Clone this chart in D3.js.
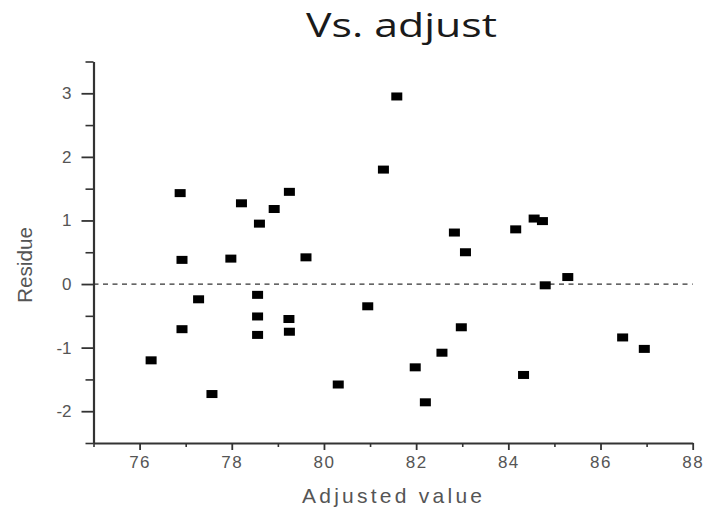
<!DOCTYPE html>
<html>
<head>
<meta charset="utf-8">
<script src="https://cdn.jsdelivr.net/npm/d3@7"></script>
<style>
  html, body { margin: 0; padding: 0; background: #fff; }
  svg { display: block; }
</style>
</head>
<body>
<svg id="chart" width="707" height="512"></svg>
<script>
// ---- data ----
const adjustedValue = [76.25, 76.88, 76.92, 76.92, 77.28, 77.57, 77.98, 78.21, 78.60, 78.56,
  78.56, 78.56, 78.92, 79.25, 79.24, 79.25, 79.61, 80.31, 80.95, 81.29,
  81.58, 81.98, 82.20, 82.56, 82.83, 82.98, 83.07, 84.16, 84.33, 84.56,
  84.74, 84.80, 85.29, 86.48, 86.95];
const residue = [-1.20, 1.43, 0.38, -0.71, -0.24, -1.73, 0.40, 1.27, 0.95, -0.17,
  -0.51, -0.80, 1.18, 1.45, -0.55, -0.75, 0.42, -1.58, -0.35, 1.80,
  2.95, -1.31, -1.86, -1.08, 0.81, -0.68, 0.50, 0.86, -1.43, 1.03,
  0.99, -0.02, 0.11, -0.84, -1.02];
const xMajorTicks = [76, 78, 80, 82, 84, 86, 88];
const xMinorTicks = [75, 77, 79, 81, 83, 85, 87];
const yMajorTicks = [-2, -1, 0, 1, 2, 3];
const yMinorTicks = [-2.5, -1.5, -0.5, 0.5, 1.5, 2.5, 3.5];
const titleText = "Vs. adjust";
const xLabel = "Adjusted value";
const yLabel = "Residue";

// ---- layout ----
const svg = d3.select("#chart");
const x = d3.scaleLinear().domain([75, 88]).range([93.5, 692.7]);
const y = d3.scaleLinear().domain([-2.5, 3.5]).range([443, 61.5]);
const axisColor = "#333";
const labelColor = "#555";
const fmt = d => String(d); // plain hyphen minus as in the reference

// title
svg.append("text")
  .attr("x", 306).attr("y", 37)
  .attr("textLength", 191).attr("lengthAdjust", "spacingAndGlyphs")
  .attr("font-family", "'Open Sans', sans-serif")
  .attr("font-size", 33).attr("fill", "#1a1a1a")
  .text(titleText);

// zero reference line
svg.append("line")
  .attr("x1", x(75)).attr("x2", x(88))
  .attr("y1", y(0)).attr("y2", y(0))
  .attr("stroke", "#333").attr("stroke-width", 1.3)
  .attr("stroke-dasharray", "5,4.5");

// x axis
const gx = svg.append("g").attr("transform", `translate(0,${y(-2.5)})`);
gx.call(d3.axisBottom(x).tickValues(xMinorTicks).tickSize(4).tickFormat(""));
gx.select(".domain").remove();
gx.selectAll(".tick line").attr("stroke", axisColor).attr("stroke-width", 1.6);
const gx2 = svg.append("g").attr("transform", `translate(0,${y(-2.5)})`);
gx2.call(d3.axisBottom(x).tickValues(xMajorTicks).tickSize(7).tickSizeOuter(0).tickPadding(6)
  .tickFormat(fmt));
gx2.select(".domain").attr("stroke", axisColor).attr("stroke-width", 2.2);
gx2.selectAll(".tick line").attr("stroke", axisColor).attr("stroke-width", 1.8);
gx2.selectAll(".tick text")
  .attr("font-family", "Arial, 'Liberation Sans', sans-serif")
  .attr("font-size", 17).attr("fill", labelColor).attr("letter-spacing", 1.5);

// y axis
const gy = svg.append("g").attr("transform", `translate(${x(75)},0)`);
gy.call(d3.axisLeft(y).tickValues(yMinorTicks).tickSize(8).tickFormat(""));
gy.select(".domain").remove();
gy.selectAll(".tick line").attr("stroke", axisColor).attr("stroke-width", 1.6);
const gy2 = svg.append("g").attr("transform", `translate(${x(75)},0)`);
gy2.call(d3.axisLeft(y).tickValues(yMajorTicks).tickSize(12).tickSizeOuter(0).tickPadding(10)
  .tickFormat(fmt));
gy2.select(".domain").attr("stroke", axisColor).attr("stroke-width", 2.2);
gy2.selectAll(".tick line").attr("stroke", axisColor).attr("stroke-width", 1.8);
gy2.selectAll(".tick text")
  .attr("font-family", "Arial, 'Liberation Sans', sans-serif")
  .attr("font-size", 17).attr("fill", labelColor);

// axis labels
svg.append("text")
  .attr("x", 302).attr("y", 503)
  .attr("textLength", 180).attr("lengthAdjust", "spacing")
  .attr("font-family", "Arial, 'Liberation Sans', sans-serif")
  .attr("font-size", 21).attr("fill", labelColor)
  .text(xLabel);
svg.append("text")
  .attr("transform", "translate(32,303) rotate(-90)")
  .attr("textLength", 76).attr("lengthAdjust", "spacingAndGlyphs")
  .attr("font-family", "Arial, 'Liberation Sans', sans-serif")
  .attr("font-size", 21).attr("fill", labelColor)
  .text(yLabel);

// points
const mw = 11, mh = 8;
svg.append("g").selectAll("rect")
  .data(adjustedValue.map((v, i) => ({ xv: v, yv: residue[i] })))
  .join("rect")
  .attr("x", d => x(d.xv) - mw / 2)
  .attr("y", d => y(d.yv) - mh / 2)
  .attr("width", mw).attr("height", mh)
  .attr("fill", "#000");
</script>
</body>
</html>
